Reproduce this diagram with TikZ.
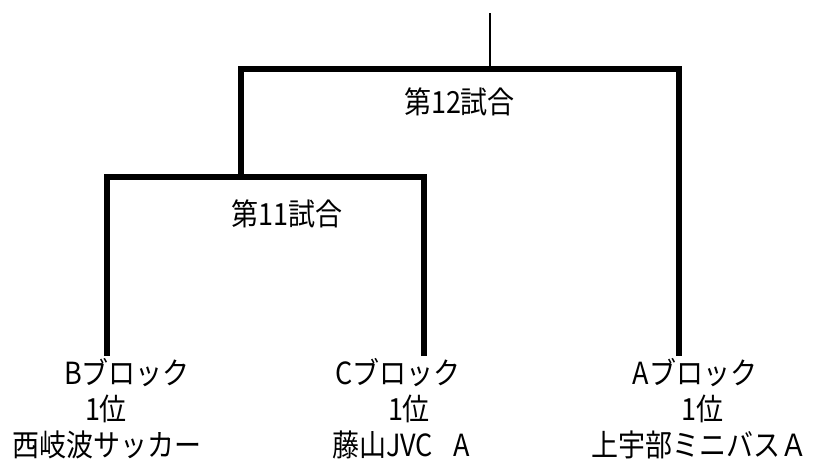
\documentclass[tikz,border=0pt]{standalone}
\usepackage{fontspec}
\setmainfont{Noto Sans CJK JP}
\begin{document}
\begin{tikzpicture}[x=1pt,y=-1pt,every node/.style={inner sep=0pt,yscale=1.13,transform shape,font=\fontsize{27}{32}\selectfont},
bracket/.style={line width=6pt,line join=miter}, stem/.style={line width=2pt}]
\useasboundingbox (0,0) rectangle (814,461);
\coordinate (top) at (489.5,13);
\coordinate (m12) at (489.5,69);
\coordinate (m11) at (241,177);
\coordinate (footB) at (107,356);
\coordinate (footC) at (424,356);
\coordinate (footA) at (679,356);
\node (match12) at (459.5,102) {第12試合};
\node (match11) at (287,214) {第11試合};
\node (blockB) at (127,373) {Bブロック};
\node (rankB) at (106,409) {1位};
\node (teamB) at (107,445) {西岐波サッカー};
\node (blockC) at (398,373) {Cブロック};
\node (rankC) at (409,409) {1位};
\node (teamC) at (401,445) {藤山JVC\hspace{0.75em}A};
\node (blockA) at (695,373) {Aブロック};
\node (rankA) at (702,409) {1位};
\node (teamA) at (699,445) {上宇部ミニバスＡ};
\draw[stem] (top) -- (m12);
\draw[bracket] (m11) |- (m12) -| (footA);
\draw[bracket] (footB) |- (m11) -| (footC);
\end{tikzpicture}
\end{document}
